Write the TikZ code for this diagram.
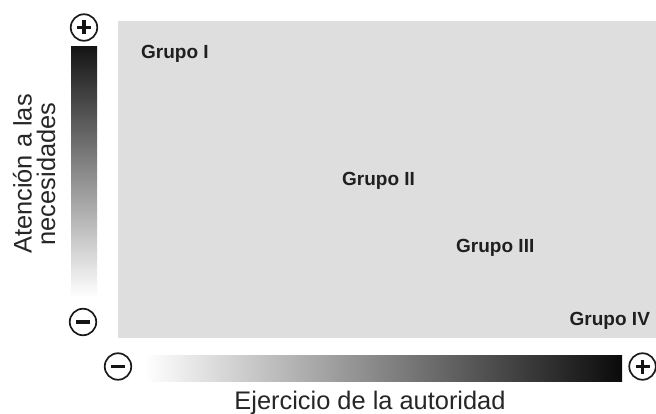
\documentclass[tikz,border=0pt]{standalone}
\usepackage{fontspec}
\setmainfont{Liberation Sans}
\begin{document}
\begin{tikzpicture}[x=1pt,y=-1pt,
  pmcircle/.style={circle,draw=black!90,line width=1.7pt,minimum size=26.5pt,inner sep=0pt},
  pmbar/.style={line width=3.4pt,draw=black!92},
  grupo/.style={anchor=base west,inner sep=0pt,font=\fontsize{19}{22}\selectfont\bfseries,text=black!88},
  axislabel/.style={anchor=base,inner sep=0pt,font=\fontsize{25.4}{28}\selectfont,text=black!85}]
\useasboundingbox (0,0) rectangle (656,414);
% panel
\fill[fill={rgb,255:red,222;green,222;blue,222}] (117.5,20.7) rectangle (656,337.5);
% gradient bars
\shade[top color=black!92, bottom color=white] (71,47) rectangle (97,297);
\shade[left color=white, right color=black!96] (145,355) rectangle (622,381);
% plus / minus symbols
\node[pmcircle] (pT) at (84,27.5) {};
\draw[pmbar] ([xshift=-7pt]pT.center) -- ([xshift=7pt]pT.center);
\draw[pmbar] ([yshift=-7pt]pT.center) -- ([yshift=7pt]pT.center);
\node[pmcircle] (mL) at (83,322) {};
\draw[pmbar] ([xshift=-7pt]mL.center) -- ([xshift=7pt]mL.center);
\node[pmcircle] (mB) at (118,366.5) {};
\draw[pmbar] ([xshift=-7pt]mB.center) -- ([xshift=7pt]mB.center);
\node[pmcircle] (pR) at (642.5,366.5) {};
\draw[pmbar] ([xshift=-7pt]pR.center) -- ([xshift=7pt]pR.center);
\draw[pmbar] ([yshift=-7pt]pR.center) -- ([yshift=7pt]pR.center);
% group labels
\node[grupo] (g1) at (141,58.3) {Grupo I};
\node[grupo] (g2) at (342,186) {Grupo II};
\node[grupo] (g3) at (456,253) {Grupo III};
\node[grupo] (g4) at (569.5,325) {Grupo IV};
% axis labels
\node[axislabel] (xl) at (370,409.3) {Ejercicio de la autoridad};
\node[axislabel,rotate=90] (yl1) at (31.7,174) {Atención a las};
\node[axislabel,rotate=90] (yl2) at (55,174) {necesidades};
\end{tikzpicture}
\end{document}
